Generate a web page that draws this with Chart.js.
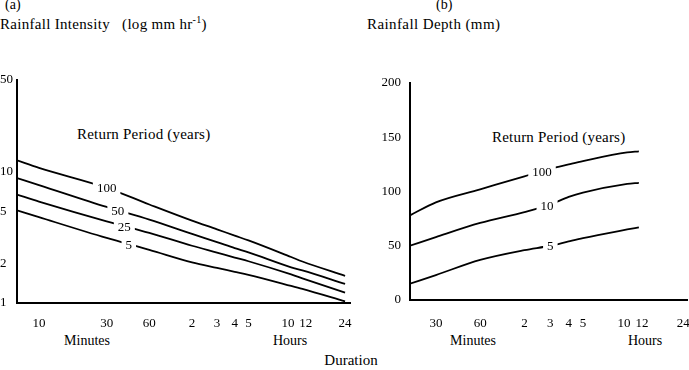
<!DOCTYPE html>
<html>
<head>
<meta charset="utf-8">
<script src="https://cdn.jsdelivr.net/npm/chart.js@4.4.1/dist/chart.umd.min.js"></script>
<style>
    html , body { margin: 0; padding: 0; background: #fff; }
    body { width: 689px; height: 370px; position: relative; overflow: hidden; font-family: "Liberation Serif" , serif; color: #000; }
    canvas { position: absolute; }
    .txt { position: absolute; font-size: 15px; line-height: 1; white-space: nowrap; }
    .mid { transform: translateX(-50%); }
    .sup { font-size: 10px; position: relative; top: -6px; }
</style>
</head>
<body>
<div class="txt" style="left:5px; top:-2px; font-size:14px;">(a)</div>
<div class="txt" style="left:0; top:17px; letter-spacing:0.3px;">Rainfall Intensity &nbsp;&nbsp;(log mm hr<span class="sup">-1</span>)</div>
<div class="txt" style="left:436px; top:-2px; font-size:14px;">(b)</div>
<div class="txt" style="left:367px; top:17px; letter-spacing:0.4px;">Rainfall Depth (mm)</div>
<div class="txt" style="left:77px; top:127px; letter-spacing:0.2px;">Return Period (years)</div>
<div class="txt" style="left:492px; top:130px; letter-spacing:0.2px;">Return Period (years)</div>
<div class="txt mid" style="left:87px; top:334px; font-size:14px;">Minutes</div>
<div class="txt mid" style="left:290px; top:334px; font-size:14px;">Hours</div>
<div class="txt mid" style="left:473px; top:334px; font-size:14px;">Minutes</div>
<div class="txt mid" style="left:645px; top:334px; font-size:14px;">Hours</div>
<div class="txt mid" style="left:351px; top:353px;">Duration</div>

<canvas id="chartA" width="356" height="280" style="left:0; top:70px;"></canvas>
<canvas id="chartB" width="340" height="280" style="left:355px; top:70px;"></canvas>

<script>
// (a) intensity, durations in minutes
const durationsA = [7 , 10 , 30 , 60 , 120 , 180 , 240 , 300 , 600 , 720 , 1440];
const intensity100 = [12.2 , 10.7 , 7.54 , 5.63 , 4.24 , 3.64 , 3.26 , 3.0 , 2.24 , 2.07 , 1.61];
const intensity50 = [8.96 , 7.92 , 5.39 , 4.32 , 3.36 , 2.91 , 2.62 , 2.43 , 1.87 , 1.77 , 1.40];
const intensity25 = [6.69 , 5.93 , 4.19 , 3.42 , 2.73 , 2.42 , 2.22 , 2.08 , 1.65 , 1.54 , 1.20];
const intensity5 = [5.09 , 4.51 , 3.13 , 2.54 , 2.04 , 1.85 , 1.73 , 1.64 , 1.35 , 1.28 , 1.03];
const periodsA = ["100" , "50" , "25" , "5"];
const labelAtA = [30 , 36 , 40 , 43];

// (b) depth
const durationsB = [20 , 30 , 60 , 120 , 180 , 240 , 300 , 600 , 720];
const depth100 = [78 , 90 , 102 , 114 , 121 , 125 , 128 , 136 , 137];
const depth10 = [50 , 58 , 71 , 81 , 88 , 95 , 99 , 107 , 108];
const depth5 = [15 , 23 , 37 , 46 , 50 , 54 , 57 , 65 , 67];
const periodsB = ["100" , "10" , "5"];
const labelAtB = [158 , 171 , 180];

// ticks
const yTicksA = [1 , 2 , 5 , 10 , 50];
const xTicksA = [10 , 30 , 60 , 120 , 180 , 240 , 300 , 600 , 720 , 1440];
const xTickLabelsA = ["10" , "30" , "60" , "2" , "3" , "4" , "5" , "10" , "12" , "24"];
const yTicksB = [0 , 50 , 100 , 150 , 200];
const xTicksB = [30 , 60 , 120 , 180 , 240 , 300 , 600 , 720 , 1440];
const xTickLabelsB = ["30" , "60" , "2" , "3" , "4" , "5" , "10" , "12" , "24"];

const font = { family: "'Liberation Serif', serif" , size: 13 };

// 10 h and 12 h sit close on a log axis, push them apart a little
function spread(label , value) {
    if (value === 600) return label + "  ";
    if (value === 720) return "  " + label;
    return label;
}

const lineLabels = {
    id: "lineLabels" ,
    afterDatasetsDraw(chart , args , opts) {
        const { ctx , scales: { x , y } } = chart;
        ctx.save();
        ctx.font = "13px 'Liberation Serif', serif";
        ctx.textAlign = "center";
        ctx.textBaseline = "middle";
        chart.data.datasets.forEach((ds , i) => {
            const at = opts.at[i];
            const k = ds.data.findIndex(p => p.x >= at);
            const a = ds.data[k - 1] , b = ds.data[k];
            const xa = x.getPixelForValue(a.x) , xb = x.getPixelForValue(b.x);
            const ya = y.getPixelForValue(a.y) , yb = y.getPixelForValue(b.y);
            const px = x.getPixelForValue(at);
            const py = ya + (px - xa) / (xb - xa) * (yb - ya);
            const w = ctx.measureText(ds.label).width + 8;
            ctx.fillStyle = "#fff";
            ctx.fillRect(px - w / 2 , py - 8 , w , 16);
            ctx.fillStyle = "#000";
            ctx.fillText(ds.label , px , py + 1);
        });
        ctx.restore();
    }
};

function makeDatasets(periods , durations , series) {
    return periods.map((p , i) => ({
        label: p ,
        data: durations.map((d , k) => ({ x: d , y: series[i][k] })) ,
        borderColor: "#000" ,
        borderWidth: 1.8 ,
        pointRadius: 0 ,
        fill: false ,
        cubicInterpolationMode: "monotone"
    }));
}

// invisible tick marks give the label offset without padding the chart area
function axisLook(gap) {
    return {
        grid: { display: true , drawOnChartArea: false , drawTicks: true , tickLength: gap , tickColor: "rgba(0,0,0,0)" } ,
        border: { display: true , color: "#000" , width: 2 }
    };
}

new Chart(document.getElementById("chartA") , {
    type: "line" ,
    data: { datasets: makeDatasets(periodsA , durationsA , [intensity100 , intensity50 , intensity25 , intensity5]) } ,
    options: {
        responsive: false ,
        animation: false ,
        devicePixelRatio: 1 ,
        layout: { padding: { top: 10 , right: 6 , left: 0 , bottom: 0 } } ,
        plugins: { legend: { display: false } , tooltip: { enabled: false } , lineLabels: { at: labelAtA } } ,
        scales: {
            x: {
                type: "logarithmic" , min: 7 , max: 1560 ,
                afterBuildTicks: s => { s.ticks = xTicksA.map(v => ({ value: v })); } ,
                afterFit: s => { s.height = 47; } ,
                ticks: { autoSkip: false , maxRotation: 0 , padding: 0 , color: "#000" , font ,
                    callback: (v , i) => spread(xTickLabelsA[i] , xTicksA[i]) } ,
                ...axisLook(13)
            } ,
            y: {
                type: "logarithmic" , min: 1 , max: 50 ,
                afterBuildTicks: s => { s.ticks = yTicksA.map(v => ({ value: v })); } ,
                afterFit: s => { s.width = 17; } ,
                ticks: { padding: 0 , crossAlign: "far" , color: "#000" , font , callback: v => String(v) } ,
                ...axisLook(4)
            }
        }
    } ,
    plugins: [lineLabels]
});

new Chart(document.getElementById("chartB") , {
    type: "line" ,
    data: { datasets: makeDatasets(periodsB , durationsB , [depth100 , depth10 , depth5]) } ,
    options: {
        responsive: false ,
        animation: false ,
        devicePixelRatio: 1 ,
        layout: { padding: { top: 13 , right: 8 , left: 0 , bottom: 0 } } ,
        plugins: { legend: { display: false } , tooltip: { enabled: false } , lineLabels: { at: labelAtB } } ,
        scales: {
            x: {
                type: "logarithmic" , min: 20 , max: 1530 ,
                afterBuildTicks: s => { s.ticks = xTicksB.map(v => ({ value: v })); } ,
                afterFit: s => { s.height = 50; } ,
                ticks: { autoSkip: false , maxRotation: 0 , padding: 0 , color: "#000" , font ,
                    callback: (v , i) => spread(xTickLabelsB[i] , xTicksB[i]) } ,
                ...axisLook(16)
            } ,
            y: {
                type: "linear" , min: 0 , max: 200 ,
                afterBuildTicks: s => { s.ticks = yTicksB.map(v => ({ value: v })); } ,
                afterFit: s => { s.width = 55; } ,
                ticks: { padding: 0 , color: "#000" , font , callback: v => String(v) } ,
                ...axisLook(9)
            }
        }
    } ,
    plugins: [lineLabels]
});
</script>
</body>
</html>
